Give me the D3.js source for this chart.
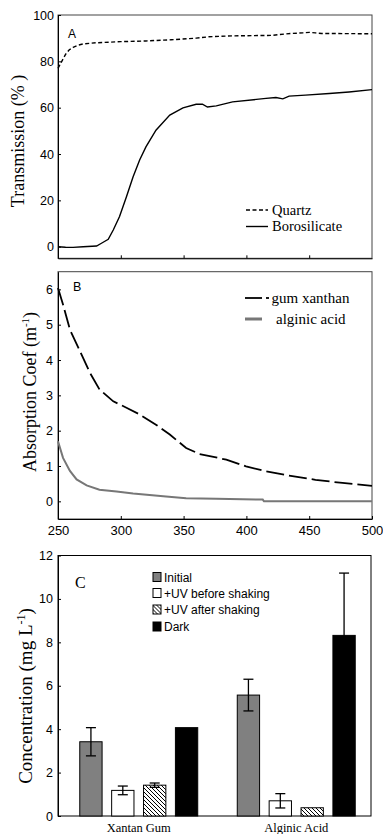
<!DOCTYPE html>
<html>
<head>
<meta charset="utf-8">
<script src="https://cdn.jsdelivr.net/npm/d3@7"></script>
<style>body{margin:0;background:#fff}</style>
</head>
<body>
<div id="chart"></div>
<script>
var w = 383, h = 834;
var sans = "'Liberation Sans', Arial, sans-serif";
var serif = "'Liberation Serif', 'Times New Roman', serif";

// panel A - transmission (%)
var quartzWl = [250, 253, 256, 259, 262, 266, 270, 280, 300, 320, 340, 360, 370, 390, 420, 435, 445, 450, 455, 460, 470, 500];
var quartzT  = [77, 80, 83, 85, 86, 87, 87.5, 88, 88.5, 88.8, 89.3, 90, 90.6, 91, 91.2, 92, 92.3, 92.5, 92.3, 92, 92, 91.9];
var boroWl = [250, 256, 262, 270, 280.7, 284.6, 290, 294, 299, 304.5, 309.8, 315, 320, 328, 339, 349.5, 360, 365, 369, 376, 389, 415.6, 423.5, 429, 434, 447, 466, 481.7, 500];
var boroT  = [0, -0.2, -0.3, 0, 0.3, 1.5, 3.2, 7.2, 13, 21.6, 30.2, 37.4, 43.1, 50.3, 56.8, 59.9, 61.5, 61.5, 60.3, 60.8, 62.5, 64, 64.4, 63.8, 65, 65.4, 66.1, 66.8, 67.8];

// panel B - absorption coefficient (m-1)
var xanthanWl = [250, 254, 259.5, 267.5, 275.4, 283, 294, 304.5, 315, 328, 339, 352, 362.7, 384, 399.7, 415.6, 434, 455, 476.5, 500];
var xanthanA  = [6.04, 5.57, 4.86, 4.25, 3.64, 3.17, 2.83, 2.65, 2.46, 2.17, 1.89, 1.51, 1.34, 1.18, 0.99, 0.85, 0.73, 0.61, 0.52, 0.44];
var alginicWl = [250, 254, 259.5, 264.8, 272.8, 283, 296.6, 309.8, 336, 352, 376, 413, 414, 450, 500];
var alginicA  = [1.70, 1.23, 0.86, 0.62, 0.45, 0.33, 0.28, 0.22, 0.14, 0.09, 0.07, 0.05, 0, 0, 0];
var wlTicks = [250, 300, 350, 400, 450, 500];

// panel C - concentration (mg L-1)
var groups = ["Xantan Gum", "Alginic Acid"];
var series = ["Initial", "+UV before shaking", "+UV after shaking", "Dark"];
var xantanMean = [3.42, 1.18, 1.42, 4.07];
var xantanErr  = [0.65, 0.2, 0.1, 0];
var alginicMean = [5.57, 0.7, 0.38, 8.32];
var alginicErr  = [0.73, 0.33, 0, 2.87];

var fills = ["#808080", "#ffffff", "url(#hatch)", "#000000"];

var svg = d3.select("#chart").append("svg")
  .attr("width", w)
  .attr("height", h)
  .style("font-family", sans);

var defs = svg.append("defs");
var pat = defs.append("pattern")
  .attr("id", "hatch")
  .attr("patternUnits", "userSpaceOnUse")
  .attr("width", 4).attr("height", 4);
pat.append("rect").attr("width", 4).attr("height", 4).attr("fill", "#fff");
pat.append("path")
  .attr("d", "M-1,-1 L5,5 M-1,3 L1,5 M3,-1 L5,1")
  .attr("stroke", "#000").attr("stroke-width", 1);

var x = d3.scaleLinear().domain([250, 500]).range([58, 372]);
var yA = d3.scaleLinear().domain([-5, 100]).range([258.3, 15]);
var yB = d3.scaleLinear().domain([-0.5, 6.5]).range([519, 271.7]);
var yC = d3.scaleLinear().domain([0, 12]).range([816, 555.5]);

function frame(y) {
  var r = y.range();
  svg.append("rect")
    .attr("x", 58).attr("y", r[1])
    .attr("width", 372 - 58).attr("height", r[0] - r[1])
    .attr("fill", "none").attr("stroke", "#444").attr("stroke-width", 1);
}

function styleAxis(g, size) {
  g.select(".domain").attr("stroke", "#000");
  g.selectAll("line").attr("stroke", "#000");
  g.selectAll("text").style("font-family", sans).style("font-size", size + "px").attr("fill", "#000");
}

// ---- panel A ----
frame(yA);
var gA = svg.append("g").attr("transform", "translate(58,0)")
  .call(d3.axisLeft(yA).tickValues([0, 20, 40, 60, 80, 100]).tickSizeInner(-3).tickSizeOuter(0).tickPadding(4));
styleAxis(gA, 12.5);
var gAx = svg.append("g").attr("transform", "translate(0," + yA.range()[0] + ")")
  .call(d3.axisBottom(x).tickValues([300, 350, 400, 450]).tickSizeInner(-3).tickSizeOuter(0).tickFormat(""));
styleAxis(gAx, 12);

var lineA = d3.line().x(function(d){ return x(d[0]); }).y(function(d){ return yA(d[1]); });
svg.append("path")
  .attr("d", lineA(d3.zip(quartzWl, quartzT)))
  .attr("fill", "none").attr("stroke", "#000").attr("stroke-width", 1.4)
  .attr("stroke-dasharray", "4,2.5");
svg.append("path")
  .attr("d", lineA(d3.zip(boroWl, boroT)))
  .attr("fill", "none").attr("stroke", "#000").attr("stroke-width", 1.4);

svg.append("text").attr("x", 68).attr("y", 38).text("A")
  .style("font-size", "12px");

svg.append("line").attr("x1", 246).attr("x2", 268).attr("y1", 210).attr("y2", 210)
  .attr("stroke", "#000").attr("stroke-width", 1.4).attr("stroke-dasharray", "4,2.5");
svg.append("text").attr("x", 272).attr("y", 214.5).text("Quartz")
  .style("font-family", serif).style("font-size", "14.5px");
svg.append("line").attr("x1", 246).attr("x2", 268).attr("y1", 226.5).attr("y2", 226.5)
  .attr("stroke", "#000").attr("stroke-width", 1.4);
svg.append("text").attr("x", 272).attr("y", 231).text("Borosilicate")
  .style("font-family", serif).style("font-size", "14.5px");

svg.append("text")
  .attr("transform", "translate(24,141) rotate(-90)")
  .attr("text-anchor", "middle")
  .style("font-family", serif).style("font-size", "18px")
  .text("Transmission (% )");

// ---- panel B ----
frame(yB);
var gB = svg.append("g").attr("transform", "translate(58,0)")
  .call(d3.axisLeft(yB).tickValues([0, 1, 2, 3, 4, 5, 6]).tickFormat(d3.format("d")).tickSizeInner(-3).tickSizeOuter(0).tickPadding(5));
styleAxis(gB, 12.5);
var gBx = svg.append("g").attr("transform", "translate(0," + yB.range()[0] + ")")
  .call(d3.axisBottom(x).tickValues(wlTicks).tickSizeInner(-3).tickSizeOuter(0).tickPadding(7));
styleAxis(gBx, 13);

var lineB = d3.line().x(function(d){ return x(d[0]); }).y(function(d){ return yB(d[1]); });
svg.append("path")
  .attr("d", lineB(d3.zip(alginicWl, alginicA)))
  .attr("fill", "none").attr("stroke", "#777").attr("stroke-width", 2);
svg.append("path")
  .attr("d", lineB(d3.zip(xanthanWl, xanthanA)))
  .attr("fill", "none").attr("stroke", "#000").attr("stroke-width", 1.8)
  .attr("stroke-dasharray", "18,5");

svg.append("text").attr("x", 73).attr("y", 291).text("B")
  .style("font-size", "12.5px");

svg.append("line").attr("x1", 245).attr("x2", 262).attr("y1", 298).attr("y2", 298)
  .attr("stroke", "#000").attr("stroke-width", 1.8);
svg.append("line").attr("x1", 266).attr("x2", 269).attr("y1", 298).attr("y2", 298)
  .attr("stroke", "#000").attr("stroke-width", 1.8);
svg.append("text").attr("x", 271.5).attr("y", 302.5).text("gum xanthan")
  .style("font-family", serif).style("font-size", "15px");
svg.append("line").attr("x1", 245).attr("x2", 262).attr("y1", 319).attr("y2", 319)
  .attr("stroke", "#777").attr("stroke-width", 3);
svg.append("text").attr("x", 276).attr("y", 323.5).text("alginic acid")
  .style("font-family", serif).style("font-size", "15px");

var tB = svg.append("text")
  .attr("transform", "translate(36,392) rotate(-90)")
  .attr("text-anchor", "middle")
  .style("font-family", serif).style("font-size", "18px");
tB.append("tspan").text("Absorption Coef (m");
tB.append("tspan").attr("dy", -7).style("font-size", "11px").text("-1");
tB.append("tspan").attr("dy", 7).text(")");

// ---- panel C ----
svg.append("rect")
  .attr("x", 58).attr("y", yC.range()[1])
  .attr("width", 371 - 58).attr("height", yC.range()[0] - yC.range()[1])
  .attr("fill", "none").attr("stroke", "#000").attr("stroke-width", 1);
var gC = svg.append("g").attr("transform", "translate(58,0)")
  .call(d3.axisLeft(yC).tickValues([0, 2, 4, 6, 8, 10, 12]).tickSizeInner(-3).tickSizeOuter(0).tickPadding(5));
styleAxis(gC, 12.5);

var x0 = d3.scaleBand().domain(groups).range([60, 375]).padding(0);
var x1 = d3.scaleBand().domain(series).range([0, x0.bandwidth()]).paddingInner(0.3).paddingOuter(0.62);

var barData = [];
series.forEach(function(s, i) {
  barData.push({ g: groups[0], s: s, i: i, v: xantanMean[i], e: xantanErr[i] });
  barData.push({ g: groups[1], s: s, i: i, v: alginicMean[i], e: alginicErr[i] });
});

svg.append("g").selectAll("rect").data(barData).enter().append("rect")
  .attr("x", function(d){ return x0(d.g) + x1(d.s); })
  .attr("y", function(d){ return yC(d.v); })
  .attr("width", x1.bandwidth())
  .attr("height", function(d){ return yC(0) - yC(d.v); })
  .attr("fill", function(d){ return fills[d.i]; })
  .attr("stroke", "#000").attr("stroke-width", 1);

var errs = svg.append("g").selectAll("g").data(barData.filter(function(d){ return d.e > 0; }))
  .enter().append("g")
  .attr("stroke", "#000").attr("stroke-width", 1.3);
errs.append("line")
  .attr("x1", function(d){ return x0(d.g) + x1(d.s) + x1.bandwidth() / 2; })
  .attr("x2", function(d){ return x0(d.g) + x1(d.s) + x1.bandwidth() / 2; })
  .attr("y1", function(d){ return yC(d.v + d.e); })
  .attr("y2", function(d){ return yC(d.v - d.e); });
[1, -1].forEach(function(sign) {
  errs.append("line")
    .attr("x1", function(d){ return x0(d.g) + x1(d.s) + x1.bandwidth() / 2 - 5; })
    .attr("x2", function(d){ return x0(d.g) + x1(d.s) + x1.bandwidth() / 2 + 5; })
    .attr("y1", function(d){ return yC(d.v + sign * d.e); })
    .attr("y2", function(d){ return yC(d.v + sign * d.e); });
});

svg.append("g").selectAll("text").data(groups).enter().append("text")
  .attr("x", function(d){ return x0(d) + x0.bandwidth() / 2; })
  .attr("y", 831.5)
  .attr("text-anchor", "middle")
  .style("font-family", serif).style("font-size", "12.5px")
  .text(function(d){ return d; });

svg.append("text").attr("x", 75).attr("y", 588).text("C")
  .style("font-family", serif).style("font-size", "16px");

var leg = svg.append("g").selectAll("g").data(series).enter().append("g")
  .attr("transform", function(d, i){ return "translate(153," + [577, 593, 609.5, 626.5][i] + ")"; });
leg.append("rect")
  .attr("x", 0).attr("y", -4.5).attr("width", 8).attr("height", 9)
  .attr("fill", function(d, i){ return fills[i]; })
  .attr("stroke", "#000").attr("stroke-width", 1);
leg.append("text")
  .attr("x", 11).attr("y", 4.5)
  .style("font-size", "12px")
  .text(function(d){ return d; });

var tC = svg.append("text")
  .attr("transform", "translate(32,696) rotate(-90)")
  .attr("text-anchor", "middle")
  .style("font-family", serif).style("font-size", "19px");
tC.append("tspan").text("Concentration (mg L");
tC.append("tspan").attr("dy", -7).style("font-size", "12px").text("-1");
tC.append("tspan").attr("dy", 7).text(")");
</script>
</body>
</html>
